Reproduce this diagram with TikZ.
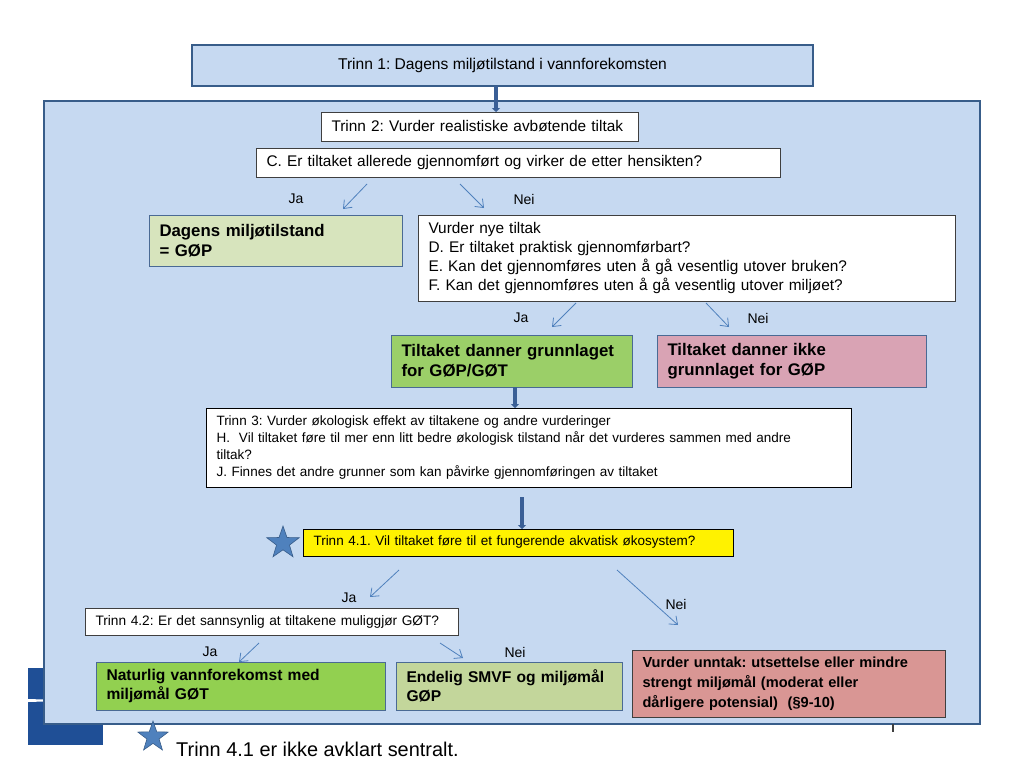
\documentclass[tikz,border=0pt]{standalone}
\usepackage{fontspec}
\setmainfont{Liberation Sans}
\usetikzlibrary{arrows.meta,shapes.geometric}
\frenchspacing
\definecolor{lblue}{HTML}{C6D9F1}
\definecolor{bdr}{HTML}{385D8A}
\definecolor{wbdr}{HTML}{3F3F3F}
\definecolor{cbdr}{HTML}{4A6A94}
\definecolor{arr}{HTML}{4F81BD}
\definecolor{thick}{HTML}{3A5F96}
\definecolor{olive}{HTML}{D7E4BD}
\definecolor{green1}{HTML}{9BCF68}
\definecolor{green2}{HTML}{92D050}
\definecolor{olive2}{HTML}{C3D69B}
\definecolor{pink1}{HTML}{D9A3B4}
\definecolor{rose}{HTML}{D99694}
\definecolor{logo}{HTML}{1F4F96}
\definecolor{starc}{HTML}{4F81BD}
\tikzset{
  box/.style={draw=wbdr, line width=0.9pt, fill=white, inner xsep=10.5pt, inner ysep=0pt,
    outer sep=0pt, align=left, anchor=north west, font=\fontsize{15.4}{19}\selectfont},
  cbox/.style={box, draw=cbdr, font=\bfseries\fontsize{16.8}{20}\selectfont},
  nbox/.style={box, draw=black, font=\fontsize{13.5}{17}\selectfont},
  lbl/.style={font=\fontsize{14}{16}\selectfont, inner sep=0pt},
  thin/.style={draw=arr, line width=0.8pt, -{Straight Barb[length=7pt,width=11pt]}},
  fat/.style={draw=thick, line width=4.5pt, -{Triangle[length=4pt,width=8pt]}},
  starshape/.style={star, star points=5, star point ratio=2.5, minimum size=34pt, inner sep=0pt,
    fill=starc, draw=bdr, line width=0.6pt},
}
\begin{document}
\begin{tikzpicture}[x=1pt,y=-1pt]
\useasboundingbox[fill=white] (0,0) rectangle (1024,768);
% logo fragment
\fill[logo] (28,668) rectangle (103,745);
\fill[white] (28,699) -- (44,699.5) -- (44,701.5) -- (28,702) -- cycle;
% main frame
\node[draw=bdr, fill=lblue, line width=2.5pt, minimum width=936pt, minimum height=623pt,
  anchor=north west, inner sep=0pt, outer sep=0pt] (frame) at (44,101) {};
\node[draw=bdr, fill=lblue, line width=2.5pt, minimum width=621pt, minimum height=41pt,
  anchor=north west, inner sep=0pt, outer sep=0pt, font=\fontsize{15.6}{18}\selectfont] (t1) at (192,45)
  {Trinn 1: Dagens miljøtilstand i vannforekomsten};
\draw[line width=1.5pt, wbdr] (893,724) -- (893,732);
% boxes
\node[box, minimum width=317pt, minimum height=29pt, text width=296pt] (t2) at (321,112)
  {Trinn 2: Vurder realistiske avbøtende tiltak};
\node[box, minimum width=524pt, minimum height=29pt, text width=503pt] (c) at (256,148)
  {C. Er tiltaket allerede gjennomført og virker de etter hensikten?};
\node[cbox, fill=olive, minimum width=253pt, minimum height=51pt, text width=232pt] (dag) at (149,215)
  {Dagens miljøtilstand\\= GØP};
\node[box, minimum width=537pt, minimum height=86pt, text width=516pt] (nye) at (418,215)
  {Vurder nye tiltak\\D. Er tiltaket praktisk gjennomførbart?\\E. Kan det gjennomføres uten å gå vesentlig utover bruken?\\F. Kan det gjennomføres uten å gå vesentlig utover miljøet?};
\node[cbox, fill=green1, minimum width=241pt, minimum height=52pt, text width=220pt] (grl) at (391,335)
  {Tiltaket danner grunnlaget\\for GØP/GØT};
\node[cbox, fill=pink1, minimum width=269pt, minimum height=52pt, text width=248pt] (ikke) at (657,335)
  {Tiltaket danner ikke\\grunnlaget for GØP};
\node[nbox, minimum width=645pt, minimum height=79pt, text width=624pt] (t3) at (206,408)
  {Trinn 3: Vurder økologisk effekt av tiltakene og andre vurderinger\\H.\ \ Vil tiltaket føre til mer enn litt bedre økologisk tilstand når det vurderes sammen med andre\\tiltak?\\J. Finnes det andre grunner som kan påvirke gjennomføringen av tiltaket};
\node[nbox, fill=yellow, minimum width=430pt, minimum height=27pt, text width=409pt] (t41) at (303,529)
  {Trinn 4.1. Vil tiltaket føre til et fungerende akvatisk økosystem?};
\node[starshape] (star1) at (283,543) {};
\node[box, font=\fontsize{13.7}{17}\selectfont, minimum width=373pt, minimum height=27pt, text width=352pt] (t42) at (85,608)
  {Trinn 4.2: Er det sannsynlig at tiltakene muliggjør GØT?};
\node[cbox, font=\bfseries\fontsize{15.6}{19}\selectfont, fill=green2, minimum width=289pt, minimum height=48pt, text width=268pt] (nat) at (96,662)
  {Naturlig vannforekomst med\\miljømål GØT};
\node[cbox, font=\bfseries\fontsize{15.6}{19}\selectfont, fill=olive2, minimum width=226pt, minimum height=48pt, text width=205pt] (end) at (396,662)
  {Endelig SMVF og miljømål\\GØP};
\node[cbox, font=\bfseries\fontsize{14.6}{20}\selectfont, draw=wbdr, fill=rose, minimum width=313pt, minimum height=67pt, text width=292pt] (unn) at (632,650)
  {Vurder unntak: utsettelse eller mindre\\strengt miljømål (moderat eller\\dårligere potensial)\ \ (§9-10)};
% bottom note
\node[starshape, minimum size=32pt] (star2) at (153,737) {};
\node[anchor=base west, inner sep=0pt, font=\fontsize{19.9}{23}\selectfont] (note) at (176,756)
  {Trinn 4.1 er ikke avklart sentralt.};
% labels
\node[lbl] (ja1) at (296,199) {Ja};
\node[lbl] (nei1) at (524,199) {Nei};
\node[lbl] (ja2) at (521,318) {Ja};
\node[lbl] (nei2) at (758,318) {Nei};
\node[lbl] (ja3) at (349,598) {Ja};
\node[lbl] (nei3) at (676,604) {Nei};
\node[lbl] (ja4) at (210,652) {Ja};
\node[lbl] (nei4) at (515,652) {Nei};
% arrow coordinates
\coordinate (a1s) at (367,184); \coordinate (a1e) at (343,209);
\coordinate (a2s) at (460,184); \coordinate (a2e) at (484,208);
\coordinate (a3s) at (576,303); \coordinate (a3e) at (552,327);
\coordinate (a4s) at (706,303); \coordinate (a4e) at (729,327);
\coordinate (a5s) at (399,570); \coordinate (a5e) at (370,597);
\coordinate (a6s) at (617,570); \coordinate (a6e) at (678,625);
\coordinate (a7s) at (259,643); \coordinate (a7e) at (239,662);
\coordinate (a8s) at (440,643); \coordinate (a8e) at (463,658);
\draw[thin] (a1s) -- (a1e);
\draw[thin] (a2s) -- (a2e);
\draw[thin] (a3s) -- (a3e);
\draw[thin] (a4s) -- (a4e);
\draw[thin] (a5s) -- (a5e);
\draw[thin] (a6s) -- (a6e);
\draw[thin] (a7s) -- (a7e);
\draw[thin] (a8s) -- (a8e);
% thick arrows
\draw[fat] (t1.south -| 496,0) -- (t2.north -| 496,0);
\draw[fat] (grl.south -| 515,0) -- (t3.north -| 515,0);
\coordinate (f3s) at (522,497);
\draw[fat] (f3s) -- (t41.north -| 522,0);
\end{tikzpicture}
\end{document}
